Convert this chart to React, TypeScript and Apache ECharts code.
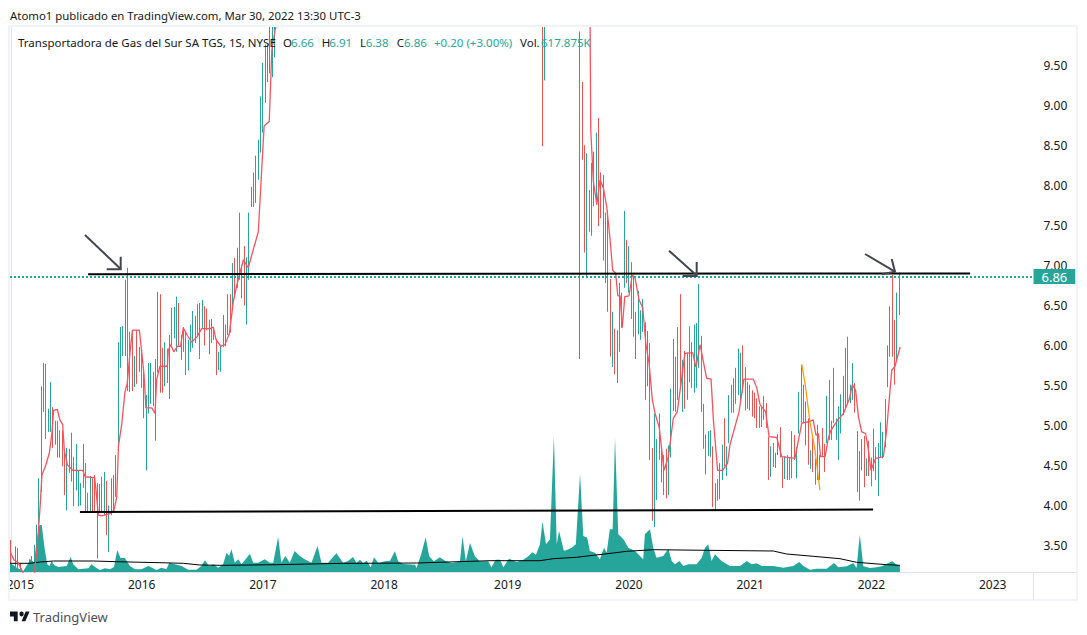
import React, { useEffect, useRef } from "react";
import * as echarts from "echarts";

const UP = "#26a69a";
const DOWN = "#ef5350";
const FONT = "'Noto Sans', sans-serif";

// Weekly bars: [low, high, direction]
const bars2015to2017: [number, number, string][] = [
  [3.1,3.57,"d"],[3.1,3.1,"d"],[3.1,3.49,"u"],[3.1,3.47,"d"],[3.1,3.28,"d"],[3.1,3.1,"d"],[3.1,3.1,"d"],[3.1,3.1,"d"],
  [3.1,3.33,"u"],[3.1,3.37,"u"],[3.1,3.51,"u"],[3.34,3.76,"u"],[3.76,4.34,"u"],[4.17,5.49,"u"],[5.17,5.78,"u"],[4.83,5.77,"d"],
  [4.92,5.21,"u"],[4.92,5.54,"u"],[4.72,5.23,"d"],[4.76,5.06,"d"],[4.6,5.06,"d"],[4.6,4.94,"d"],[4.49,4.94,"d"],[4.13,4.69,"d"],
  [3.94,4.72,"u"],[4.41,4.71,"u"],[4.3,4.91,"u"],[3.99,4.61,"d"],[4.19,4.77,"u"],[3.99,4.44,"u"],[4.0,4.28,"u"],[4.22,4.77,"u"],
  [3.92,4.53,"d"],[3.92,4.16,"d"],[3.91,4.37,"u"],[3.91,4.34,"d"],[3.91,4.38,"d"],[3.34,4.28,"u"],[3.91,4.27,"u"],[3.91,4.36,"d"],
  [3.88,4.42,"u"],[3.63,4.31,"d"],[3.42,4.0,"u"],[3.88,4.34,"u"],[3.91,4.38,"u"],[4.11,4.63,"u"],[4.69,6.04,"u"],[5.72,6.23,"u"],
  [5.87,6.24,"u"],[5.87,6.82,"u"],[5.43,6.97,"d"],[5.42,6.17,"d"],[5.43,6.17,"d"],[5.48,5.87,"u"],[5.52,6.19,"d"],[5.67,5.98,"u"],
  [5.47,5.94,"d"],[5.09,5.73,"d"],[4.44,5.38,"u"],[5.15,5.78,"u"],[5.27,5.78,"u"],[5.24,5.67,"d"],[4.81,5.83,"u"],[5.66,6.67,"u"],
  [5.41,6.64,"d"],[5.41,5.97,"d"],[5.49,6.04,"u"],[5.53,5.96,"d"],[5.33,6.13,"u"],[6.0,6.47,"u"],[6.09,6.48,"u"],[5.92,6.61,"u"],
  [6.0,6.53,"d"],[5.82,6.13,"u"],[5.92,6.23,"d"],[5.63,6.18,"d"],[5.69,6.07,"u"],[5.92,6.26,"u"],[5.97,6.43,"u"],[6.03,6.37,"u"],
  [6.11,6.52,"d"],[5.83,6.53,"u"],[6.22,6.57,"u"],[6.0,6.49,"d"],[6.19,6.46,"d"],[5.89,6.32,"u"],[6.03,6.33,"d"],[6.07,6.23,"d"],
  [5.63,6.08,"d"],[5.69,5.92,"u"],[5.67,6.0,"u"],[5.98,6.38,"u"],[5.99,6.26,"u"],[6.13,6.64,"u"],[6.16,6.64,"d"],[6.49,7.03,"u"],
  [6.59,7.09,"d"],[6.72,7.22,"u"],[6.82,7.66,"d"],[6.59,7.0,"d"],[6.5,7.24,"d"],[6.26,7.1,"u"],[6.82,7.66,"u"],[7.73,7.98,"u"],
  [7.73,8.16,"u"],[7.78,8.37,"u"],[8.07,8.57,"u"],[8.41,9.11,"u"],[8.66,9.53,"u"],[9.03,9.76,"u"],[9.29,9.76,"u"],[9.4,10.2,"u"],
  [9.35,10.3,"u"],[9.6,10.4,"u"],
];
const bars2019Start = 228;
const bars2019: [number, number, string][] = [[8.49,10.5,"d"],[9.31,10.4,"u"]];
const barsLateStart = 244;
const barsLate: [number, number, string][] = [
  [5.83,9.92,"u"],[8.32,9.29,"d"],[7.16,8.5,"d"],[6.84,8.4,"u"],[7.42,7.94,"d"],[7.37,8.28,"u"],[7.74,8.42,"u"],[7.76,8.66,"u"],
  [7.49,8.84,"d"],[7.59,8.16,"d"],[7.06,8.13,"d"],[6.78,7.66,"d"],[6.42,7.69,"d"],[5.86,6.83,"d"],[5.73,6.42,"u"],[5.64,6.21,"d"],
  [5.53,6.19,"u"],[5.92,6.78,"u"],[6.22,6.66,"d"],[6.72,7.68,"u"],[6.78,7.32,"d"],[6.66,7.24,"u"],[6.33,7.04,"d"],[6.11,6.86,"d"],
  [5.83,6.42,"u"],[6.14,6.68,"u"],[6.07,6.44,"u"],[6.17,6.58,"u"],[5.32,6.29,"d"],[5.49,6.18,"u"],[4.57,6.03,"d"],[3.81,4.72,"d"],
  [3.73,5.15,"u"],[4.07,4.83,"u"],[4.57,5.15,"d"],[4.29,4.74,"d"],[4.13,4.63,"d"],[4.09,4.71,"d"],[4.13,4.75,"u"],[4.6,5.46,"u"],
  [5.18,6.08,"u"],[5.17,5.86,"d"],[5.32,6.23,"u"],[5.47,6.64,"d"],[5.17,5.82,"u"],[5.21,5.93,"d"],[5.32,5.91,"u"],[5.54,6.24,"d"],
  [5.47,6.04,"d"],[5.41,6.26,"u"],[5.47,6.28,"u"],[5.72,6.77,"u"],[5.17,6.12,"d"],[4.71,5.27,"d"],[4.39,4.89,"d"],[4.62,4.93,"u"],
  [4.61,4.94,"u"],[3.98,4.74,"d"],[3.93,4.28,"u"],[4.06,4.33,"u"],[4.08,4.53,"u"],[4.32,4.76,"u"],[4.49,5.09,"d"],[4.37,4.74,"u"],
  [4.78,5.38,"u"],[5.16,5.51,"d"],[5.16,5.59,"u"],[5.27,5.72,"u"],[5.38,5.96,"u"],[5.32,5.91,"u"],[5.41,6.0,"d"],[5.19,5.73,"d"],
  [5.21,5.54,"u"],[5.19,5.51,"u"],[5.11,5.44,"d"],[5.09,5.41,"d"],[4.97,5.34,"d"],[4.97,5.24,"d"],[4.98,5.23,"d"],[5.07,5.37,"u"],
  [4.97,5.28,"d"],[4.32,4.86,"d"],[4.36,4.74,"u"],[4.48,4.78,"d"],[4.47,4.66,"u"],[4.63,4.89,"u"],[4.6,4.98,"d"],[4.22,4.6,"d"],
  [4.33,4.62,"u"],[4.32,4.63,"u"],[4.32,4.6,"d"],[4.34,4.93,"u"],[4.57,4.88,"d"],[4.34,4.73,"u"],[4.9,5.42,"u"],[5.04,5.76,"d"],
  [5.03,5.51,"d"],[4.75,5.3,"d"],[4.51,5.09,"d"],[4.46,4.69,"u"],[4.42,4.86,"d"],[4.26,4.59,"u"],[4.32,5.01,"d"],[4.32,4.63,"u"],
  [4.61,4.97,"d"],[4.42,4.77,"d"],[4.78,5.37,"u"],[4.82,5.57,"d"],[4.82,5.06,"d"],[5.03,5.72,"d"],[4.82,5.09,"u"],[4.57,5.24,"u"],
  [4.9,5.39,"u"],[5.13,5.62,"u"],[5.22,5.97,"u"],[5.26,6.11,"d"],[5.28,5.51,"u"],[5.32,5.78,"u"],[5.16,5.53,"d"],[4.17,4.93,"d"],
  [4.06,4.68,"u"],[4.44,4.83,"u"],[4.23,4.87,"d"],[4.37,4.59,"u"],[4.37,4.81,"d"],[4.24,4.6,"d"],[4.43,4.96,"u"],[4.32,4.73,"d"],
  [4.12,4.78,"u"],[4.6,5.04,"u"],[4.59,4.92,"u"],[4.73,5.33,"u"],[5.48,6.0,"u"],[5.86,6.49,"u"],[5.86,6.88,"d"],[5.51,6.32,"d"],
  [5.8,6.66,"u"],[6.38,6.91,"u"],
];

// Moving average vertices: [week index, price]
const maEarly: [number, number][] = [
  [-0.5,3.43],[1.2,3.32],[2.9,3.29],[4.6,3.19],[6.4,3.09],[9.8,3.09],[11.5,3.61],[12.4,3.98],[13.2,4.38],[14.9,4.51],[16.4,4.66],
  [17.5,4.91],[18.2,5.19],[19.8,5.2],[20.9,5.07],[22.1,5.01],[22.8,4.69],[24.1,4.51],[26.4,4.44],[30.7,4.44],[31.7,4.36],[35.8,4.35],
  [36.4,4.19],[37.4,3.88],[38.8,3.87],[42.4,3.9],[44.1,3.94],[45.3,4.11],[46,4.74],[47.4,5.01],[48.8,5.42],[49.8,5.53],[51,5.92],
  [52,6.19],[55,6.19],[56,5.92],[57,5.63],[57.8,5.22],[60.3,5.22],[61.7,5.15],[62.4,5.57],[63.8,5.74],[67,5.74],[67.4,5.94],[68.4,6.01],
  [69.8,5.92],[71.3,5.99],[72.7,5.99],[73.8,6.22],[75.5,6.13],[77.4,6.04],[79.8,6.11],[81.7,6.21],[85.3,6.21],[86.7,6.23],[87.9,6.07],
  [90,5.99],[91.7,6.01],[93.6,6.15],[95.3,6.55],[97,6.78],[99.6,7.07],[101.7,6.97],[103.2,7.13],[106,7.42],[108.5,8.74],[110.7,8.8],
  [111.8,9.69],[113.2,9.94],[114.5,10.07],
];
const maLate: [number, number][] = [
  [248.3,10.07],[248.6,8.69],[249.7,8.05],[251.2,7.76],[252.6,8.07],[254,7.97],[255.5,7.72],[256.9,7.32],[258,6.94],[259.3,6.9],[260.2,6.62],
  [261.2,6.62],[262.1,6.22],[263.2,6.61],[265,6.62],[266.4,6.88],[267.6,6.84],[269.3,6.57],[270.9,6.47],[272.2,6.03],[273.6,5.78],[275,5.32],
  [276.2,5.15],[278,4.97],[280,4.44],[281.9,4.61],[284,5.09],[285.7,5.17],[289,5.9],[292.3,5.91],[293.7,5.73],[295.5,6.01],[298.3,5.59],
  [300.2,5.58],[301.2,5.07],[303,4.44],[305.2,4.44],[307.3,4.53],[308.3,4.76],[312.2,5.17],[314.3,5.58],[318.3,5.58],[319.8,5.47],[321.2,5.26],
  [323.6,5.17],[325.1,4.86],[328.4,4.85],[330.5,4.61],[336.2,4.59],[339.1,5.03],[342.6,5.05],[344,5.07],[345.2,4.88],[346.2,4.9],[347.2,4.61],
  [349.1,4.61],[350.5,4.84],[351.6,4.94],[354.8,5.08],[357,5.15],[359.5,5.33],[360.8,5.51],[362.2,5.44],[363.4,5.11],[364.8,4.92],[366.5,4.9],
  [367.7,4.69],[368.8,4.44],[370.8,4.59],[374.1,4.61],[375.5,4.94],[377.7,5.69],[379.1,5.74],[381.3,5.98],
];
const orangeTrend: [number, number][] = [[339.1,5.76],[340.5,5.53],[342.6,5.05],[344.8,4.69],[346.9,4.19]];

// Volume vertices: [week index, height on the hidden volume axis]
const volume2015to2017: [number, number][] = [
  [-0.5,9.3],[2.4,4.3],[5.2,1],[7.4,9.3],[8.4,12.7],[9.8,9.3],[10.9,31],[12.1,47],[13.1,47],[14.5,21],[15.5,7.7],[16.4,6],[17.4,11],[18.4,7],
  [20.2,5],[23.8,6],[25.5,15],[26.6,7.7],[28.8,2.7],[33.1,3.7],[34.5,7.7],[36.4,4.3],[38.1,2],[40.2,3.7],[42.4,2.7],[44.1,5],[45.5,22],[46.9,14],
  [48.8,14],[50.9,6],[53.1,2.7],[55.9,2.7],[58.8,6],[62.4,2],[64.5,4.3],[66.6,2.7],[67.8,9.3],[70.2,7.7],[73.1,6],[75.9,2.3],[79.5,2.3],[81.6,6],
  [83.1,11.7],[84.9,6],[86.9,7.7],[88.8,4.3],[90.9,7.7],[92.4,19.3],[93.5,16],[94.5,22.7],[95.9,9.3],[97.4,12.7],[98.8,7.7],[100.2,11.7],[102.4,18.3],
  [103.8,9.3],[105.9,9.3],[108.8,12.7],[110.9,9.3],[112.4,9.3],[114.5,35],[115.9,9.3],[117.6,16],[119.5,9.3],[121.6,21],[123.8,16],[125.9,12.7],
  [128.8,9.3],[131.4,26],[133.1,9.3],[135.9,9.3],[139.5,18.7],[142.4,9.3],[144.5,11],[146.6,15],[148.1,9.3],
];
const volume2018to2019: [number, number][] = [
  [149.6,12.3],[151,9],[152.5,11.3],[154.2,4.7],[155.6,14.7],[157.5,9],[160.3,10.7],[162.5,11.3],[164.6,20.7],[166,10.7],[168.2,8],[173.2,7.3],[173.9,4],
  [175.8,17.3],[177.8,34.7],[179.3,15.7],[181.3,10.7],[183.9,14.7],[186,11.3],[187.5,10],[188.9,9],[191.1,9.7],[192.5,10.7],[193.6,35.7],[195,10.7],
  [196.8,29],[198.9,15.7],[201,10.7],[204.6,10.7],[206,4.7],[207.8,12.3],[209.7,12.3],[211.1,4.7],[213.5,13.3],[216.8,10],[219.7,12.3],[221.8,15.7],
  [223.5,19.7],[225.1,17.3],[226.8,27.7],[227.9,50.3],[229.4,27.7],[231.1,32.7],[232.8,135.7],[234,27.7],[235,41],[237.1,21],[239,22.7],[240.4,24.3],
  [242.2,27.7],[244,98.3],[245.4,36],[247.1,34.3],[248.2,21],[250.4,19.3],[252.5,12.7],[254.3,24.3],[255.4,19.3],[256.8,42.7],[258,42.7],[259,134.3],
  [260.4,37.7],[262.6,32.7],[264.7,24.3],
];
const volume2020to2022: [number, number][] = [
  [267.6,21],[269.7,16],[271.1,12.7],[271.8,37.7],[274,42.7],[275.4,24.3],[276.8,14.3],[279.7,16],[281.9,23.3],[283.3,11],[284.7,7.7],[286.6,11],[288.3,6],
  [290.4,7.7],[294,7.7],[296.2,14.3],[297.6,24.3],[299,27.7],[300.4,11],[301.9,17.7],[304.7,11],[308.3,6],[312.6,6],[315.5,11],[317.6,7.7],[319.7,8.7],
  [321.9,6],[324.7,6],[326.9,6],[331.2,4.3],[335.5,6],[338,10],[339.8,6],[342.6,2.3],[345.5,3.3],[349.8,3.3],[352.9,9],[354.8,4.7],[358.4,5.7],[361.2,9],
  [362.6,4],[364,37.3],[365.5,5.7],[368.4,4],[371.2,4.7],[373.4,5.7],[376.2,9],[378,10.7],[379.8,7.3],[381.2,6.7],
];
const volumeAverage: [number, number][] = [
  [-0.5,8.7],[8.1,8.7],[12.4,10],[18.1,11],[35.2,11],[45.2,10.3],[63.8,9.3],[73.8,8.7],[80.9,7],[90.9,6.7],[113.8,7.3],[142.4,8.7],[149.5,8.7],
  [173.9,9],[205.4,11.3],[226.8,11.3],[232.5,13.3],[242.5,14.7],[249.7,16.7],[258.3,19],[264,20.7],[275.4,22.3],[298.3,21.7],[326.9,21],[332.6,18],
  [344,15.7],[355.5,13.3],[362.6,9.7],[375.5,7.3],[381.2,6.7],
];

const resistance: [number, number][] = [[33, 6.89], [411.3, 6.9]];
const support: [number, number][] = [[29.5, 3.92], [369.7, 3.95]];
const priceLabels = [3.5, 4, 4.5, 5, 5.5, 6, 6.5, 7, 7.5, 8, 8.5, 9, 9.5];
const lastPrice = 6.86;
const PRICE_MIN = 3.17;
const PRICE_MAX = 9.99;

const WEEKS = 439;
const firstWeekMs = Date.UTC(2014, 11, 8);
const categories: string[] = [];
for (let i = 0; i < WEEKS; i++) {
  categories.push(new Date(firstWeekMs + i * 7 * 86400000).toISOString().slice(0, 10));
}
const isYearStart = (value: string) => value.slice(5, 7) === "01" && Number(value.slice(8, 10)) <= 7;

// The candlestick series does not cut a bar at the frame, so bars stop at the visible range.
const candle = (b: [number, number, string] | undefined) => {
  if (!b) return "-";
  const lo = Math.max(b[0], PRICE_MIN);
  const hi = Math.min(b[1], PRICE_MAX);
  if (hi <= PRICE_MIN) return "-";
  return b[2] === "u" ? [lo, hi, lo, hi] : [hi, lo, lo, hi];
};
const candleData = categories.map((_, i) => {
  if (i < bars2015to2017.length) return candle(bars2015to2017[i]);
  if (i >= bars2019Start && i < bars2019Start + bars2019.length) return candle(bars2019[i - bars2019Start]);
  if (i >= barsLateStart && i < barsLateStart + barsLate.length) return candle(barsLate[i - barsLateStart]);
  return "-";
});

echarts.graphic.registerShape(
  "tvLogo",
  echarts.graphic.extendPath(
    "M14 6H0v8h7v8h7V6ZM28 22h-7l7.5-16h7L28 22ZM21 6a4 4 0 1 1 0 8 4 4 0 0 1 0-8Z",
    {}
  )
);

const TEXT_Z = 100;
const txt = (x: number, y: number, text: string, fill: string, fontSize = 12) => ({
  type: "text",
  x,
  y,
  z: TEXT_Z,
  silent: true,
  style: { text, fill, fontSize, fontFamily: FONT, verticalAlign: "middle", align: "left" },
});
const stroke = (points: number[][], color: string, width: number) => ({
  type: "polyline",
  z: 60,
  silent: true,
  shape: { points },
  style: { stroke: color, lineWidth: width, fill: "none" },
});

export default function App() {
  const ref = useRef<HTMLDivElement>(null);
  useEffect(() => {
    const chart = echarts.init(ref.current!, null, { renderer: "svg", width: 1087, height: 635 });
    const lineSeries = (name: string, data: [number, number][], color: string, width: number, yAxisIndex = 0) => ({
      name,
      type: "line",
      xAxisIndex: 1,
      yAxisIndex,
      data,
      symbol: "none",
      smooth: false,
      lineStyle: { color, width },
      silent: true,
    });
    const volumeSeries = {
      name: "Volumen",
      type: "line",
      xAxisIndex: 1,
      yAxisIndex: 1,
      data: [...volume2015to2017, ...volume2018to2019, ...volume2020to2022],
      symbol: "none",
      lineStyle: { width: 0 },
      areaStyle: { color: UP, opacity: 1, origin: "start" },
      silent: true,
    };
    chart.setOption({
      animation: false,
      backgroundColor: "#ffffff",
      textStyle: { fontFamily: FONT },
      grid: { left: 10, top: 26, width: 1023.5, height: 546, containLabel: false },
      xAxis: [
        {
          type: "category",
          data: categories,
          boundaryGap: true,
          axisLine: { show: true, lineStyle: { color: "#e0e3eb", width: 1 } },
          axisTick: { show: false },
          splitLine: { show: false },
          axisLabel: {
            interval: (_: number, value: string) => isYearStart(value),
            formatter: (value: string) => value.slice(0, 4),
            color: "#131722",
            fontSize: 12,
            fontFamily: FONT,
            margin: 6,
            hideOverlap: false,
          },
        },
        { type: "value", min: -0.5, max: WEEKS - 0.5, show: false, splitLine: { show: false } },
      ],
      yAxis: [
        {
          type: "value",
          position: "right",
          min: PRICE_MIN,
          max: PRICE_MAX,
          scale: true,
          axisLine: { show: true, lineStyle: { color: "#e0e3eb", width: 1 } },
          axisTick: { show: false },
          splitLine: { show: false },
          axisLabel: {
            customValues: priceLabels,
            formatter: (v: number) => v.toFixed(2),
            color: "#131722",
            fontSize: 12,
            fontFamily: FONT,
            margin: 10,
          },
        },
        { type: "value", min: 0, max: 546, show: false, splitLine: { show: false } },
      ],
      series: [
        volumeSeries,
        lineSeries("Media de volumen", volumeAverage, "#000000", 1, 1),
        {
          name: "TGS",
          type: "candlestick",
          xAxisIndex: 0,
          yAxisIndex: 0,
          data: candleData,
          barWidth: 1,
          silent: true,
          itemStyle: { color: UP, color0: DOWN, borderColor: UP, borderColor0: DOWN, borderWidth: 1 },
          markLine: {
            silent: true,
            symbol: "none",
            animation: false,
            data: [{ yAxis: lastPrice }],
            lineStyle: { color: UP, type: [2, 2], width: 2 },
            label: {
              show: true,
              position: "end",
              distance: 0,
              formatter: () => lastPrice.toFixed(2),
              backgroundColor: UP,
              color: "#ffffff",
              fontSize: 13,
              fontFamily: FONT,
              padding: [1, 8, 1, 8],
            },
          },
        },
        lineSeries("Media", maEarly, "#f7525f", 1.3),
        lineSeries("Media ", maLate, "#f7525f", 1.3),
        lineSeries("Tendencia", orangeTrend, "#ff9800", 1.2),
        lineSeries("Resistencia", resistance, "#000000", 2),
        lineSeries("Soporte", support, "#000000", 2),
      ],
      graphic: [
        { type: "rect", z: 50, silent: true, shape: { x: 0, y: 573, width: 9, height: 27 }, style: { fill: "#ffffff" } },
        { type: "rect", z: 51, silent: true, shape: { x: 9, y: 26, width: 1068, height: 574 }, style: { fill: "none", stroke: "#f0f3fa", lineWidth: 2 } },
        { type: "line", z: 51, silent: true, shape: { x1: 1033.5, y1: 572, x2: 1033.5, y2: 600 }, style: { stroke: "#e0e3eb", lineWidth: 1 } },
        { type: "line", z: 51, silent: true, shape: { x1: 1033.5, y1: 572.5, x2: 1077, y2: 572.5 }, style: { stroke: "#e0e3eb", lineWidth: 1 } },
        stroke([[85, 235], [120.7, 269]], "#434651", 2),
        stroke([[120.7, 256.7], [120.7, 269.3], [106.7, 269.3]], "#434651", 2),
        stroke([[669, 250.7], [696.7, 275.5]], "#434651", 2),
        stroke([[696.7, 262], [696.7, 276], [682.7, 276]], "#434651", 2),
        stroke([[865, 254], [895, 271.7]], "#434651", 2),
        stroke([[891.7, 259], [895, 271.7], [881.7, 274.3]], "#434651", 2),
        txt(10, 15, "Atomo1 publicado en TradingView.com, Mar 30, 2022 13:30 UTC-3", "#131722", 11.4),
        txt(18, 42, "Transportadora de Gas del Sur SA TGS, 1S, NYSE", "#131722", 11.5),
        txt(283, 42, "O", "#131722", 11.5),
        txt(291, 42, "6.66", UP, 11.5),
        txt(321.7, 42, "H", "#131722", 11.5),
        txt(329.3, 42, "6.91", UP, 11.5),
        txt(360, 42, "L", "#131722", 11.5),
        txt(365.7, 42, "6.38", UP, 11.5),
        txt(396.7, 42, "C", "#131722", 11.5),
        txt(404, 42, "6.86", UP, 11.5),
        txt(434, 42, "+0.20 (+3.00%)", UP, 11.5),
        txt(520, 42, "Vol.", "#131722", 11.5),
        txt(541, 42, "617.875K", UP, 11.5),
        { type: "tvLogo", x: 10, y: 608, z: TEXT_Z, silent: true, scaleX: 0.55, scaleY: 0.6, style: { fill: "#131722" } },
        txt(33, 617, "TradingView", "#4a4e5a", 13),
      ],
    });
    return () => chart.dispose();
  }, []);
  return <div ref={ref} style={{ position: "fixed", left: 0, top: 0, width: 1087, height: 635 }} />;
}
